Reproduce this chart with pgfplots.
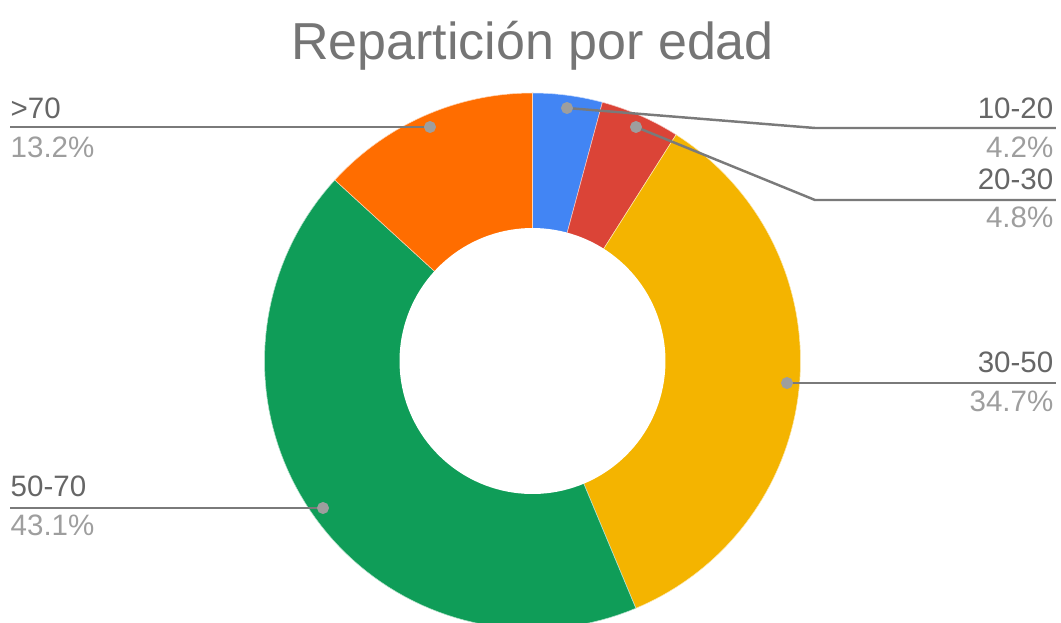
\documentclass[border=0pt]{standalone}
\usepackage{pgfplots}
\pgfplotsset{compat=1.18}
\usepackage{fontspec}
\setmainfont{Liberation Sans}
\definecolor{cblue}{HTML}{4285F4}
\definecolor{cred}{HTML}{DB4437}
\definecolor{cyellow}{HTML}{F4B400}
\definecolor{cgreen}{HTML}{0F9D58}
\definecolor{corange}{HTML}{FF6D00}
\definecolor{titlegray}{HTML}{757575}
\definecolor{namegray}{HTML}{666666}
\definecolor{pctgray}{HTML}{9E9E9E}
\definecolor{linegray}{HTML}{7A7A7A}
\definecolor{dotgray}{HTML}{9E9E9E}
\def\cx{532.5}
\def\cy{361}
\def\Rout{268}
\def\Rin{133}
\newcommand\slice[3]{%
  \addplot[fill=#3, draw=white!70!#3, line width=0.15pt, domain={3.6*#1}:{3.6*#2}, samples=80, variable=\t]
    ({\cx+\Rout*sin(t)},{\cy-\Rout*cos(t)}) -- (\cx,\cy) -- cycle;%
}
\begin{document}
\begin{tikzpicture}
\begin{axis}[
  width=10.61cm, height=6.23cm, scale only axis,
  xmin=0, xmax=1061, ymin=0, ymax=623, y dir=reverse,
  hide axis, clip=true,
]
\addplot[draw=none, forget plot] coordinates {(0,0) (1061,623)};
% slices: cumulative percentages (10-20: 4.2, 20-30: 4.8, 30-50: 34.7, 50-70: 43.1, >70: 13.2)
\slice{0}{4.2}{cblue}
\slice{4.2}{9.0}{cred}
\slice{9.0}{43.7}{cyellow}
\slice{43.7}{86.8}{cgreen}
\slice{86.8}{100}{corange}
\addplot[fill=white, draw=none, domain=0:360, samples=150, variable=\t]
  ({\cx+\Rin*sin(t)},{\cy-\Rin*cos(t)}) -- cycle;
% leader lines
\addplot[linegray, line width=0.7pt] coordinates {(567,108) (815,128) (1056,128)};
\addplot[linegray, line width=0.7pt] coordinates {(636,127) (815,200) (1056,200)};
\addplot[linegray, line width=0.7pt] coordinates {(787,383) (1056,383)};
\addplot[linegray, line width=0.7pt] coordinates {(323,508) (10,508)};
\addplot[linegray, line width=0.7pt] coordinates {(430,127) (10,127)};
\addplot[only marks, mark=*, mark size=1.5pt, color=dotgray] coordinates {(567,108) (636,127) (787,383) (323,508) (430,127)};
% texts
\node[anchor=base, inner sep=0pt, text=titlegray, font=\fontsize{14.8pt}{17pt}\selectfont] at (532.5,60) {Repartición por edad};
\begin{scope}[every node/.style={inner sep=0pt, font=\fontsize{8.4pt}{10pt}\selectfont}]
\node[anchor=base east, text=namegray] at (1054,118) {10-20};
\node[anchor=base east, text=pctgray] at (1054,158) {4.2\%};
\node[anchor=base east, text=namegray] at (1054,189) {20-30};
\node[anchor=base east, text=pctgray] at (1054,227) {4.8\%};
\node[anchor=base east, text=namegray] at (1054,372) {30-50};
\node[anchor=base east, text=pctgray] at (1054,411) {34.7\%};
\node[anchor=base west, text=namegray] at (10,118) {>70};
\node[anchor=base west, text=pctgray] at (10,157) {13.2\%};
\node[anchor=base west, text=namegray] at (10,496) {50-70};
\node[anchor=base west, text=pctgray] at (10,535) {43.1\%};
\end{scope}
\end{axis}
\end{tikzpicture}
\end{document}
